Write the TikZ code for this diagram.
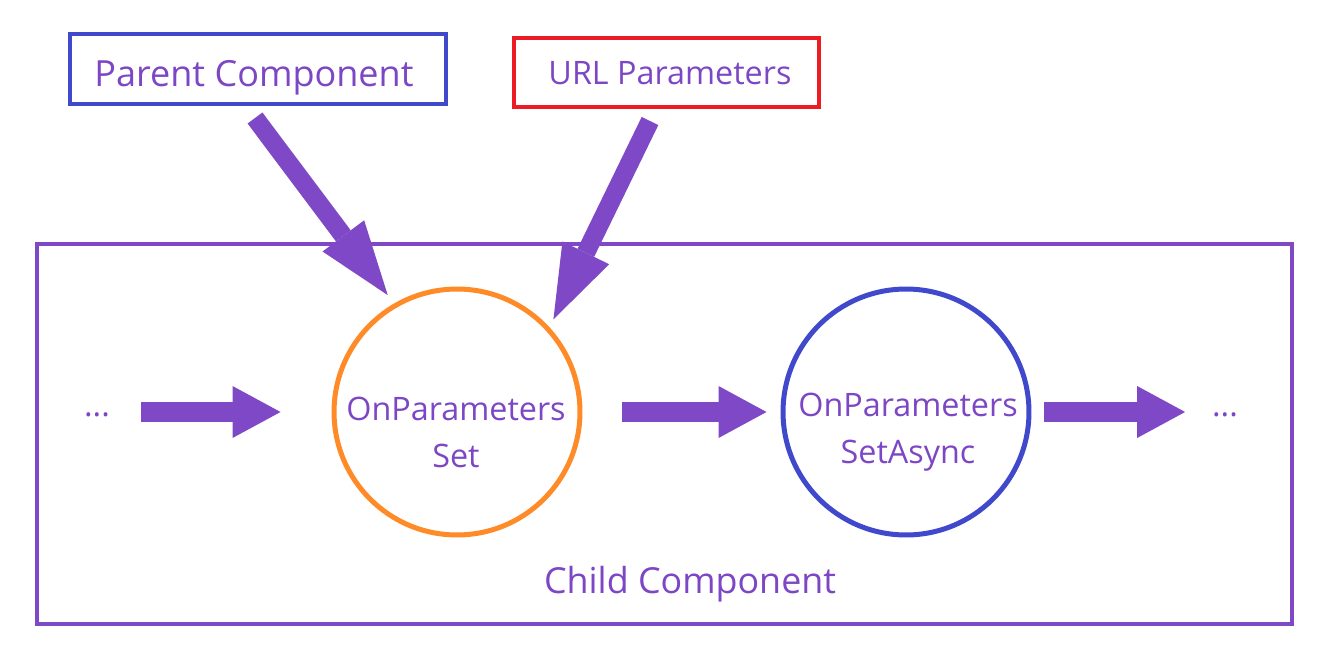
\documentclass[tikz,border=0pt]{standalone}
\usepackage{fontspec}
\setmainfont{Open Sans}
\usetikzlibrary{arrows.meta}

\definecolor{txtpurple}{RGB}{124,70,196}
\definecolor{arrpurple}{RGB}{126,72,198}
\definecolor{boxblue}{RGB}{64,72,204}
\definecolor{boxred}{RGB}{237,28,36}
\definecolor{setorange}{RGB}{255,138,40}

\tikzset{
  x=0.02cm, y=-0.02cm,
  label text/.style={text=txtpurple, inner sep=0pt, outer sep=0pt},
  srcbox/.style={draw, line width=0.08cm, minimum width=#1, minimum height=1.4cm, inner sep=0pt},
  hookcircle/.style={circle, draw=#1, line width=0.1cm, minimum size=4.92cm, inner sep=0pt, outer sep=0pt},
  flowarrow/.style={draw=arrpurple, line width=0.39cm,
    -{Triangle[length=0.96cm, width=1.04cm, line width=0pt]}},
  inarrow/.style={draw=arrpurple, line width=0.37cm,
    -{Triangle[length=1.48cm, width=1.04cm, line width=0pt]}},
}

\begin{document}
\begin{tikzpicture}
  \useasboundingbox (0,0) rectangle (1335,672);

  % sources of the parameters
  \node[srcbox=7.52cm, draw=boxblue] (parent) at (258,69) {};
  \node[label text, anchor=base, font=\fontsize{20.5}{24}\selectfont] (parenttxt) at (254,87) {Parent Component};
  \node[srcbox=6.1cm, draw=boxred, minimum height=1.38cm] (url) at (666.5,72.5) {};
  \node[label text, anchor=base, font=\fontsize{18.4}{22}\selectfont] (urltxt) at (670,85) {URL Parameters};

  % the child component and its lifecycle
  \node[draw=arrpurple, line width=0.08cm, minimum width=25.1cm, minimum height=7.6cm, inner sep=0pt] (child) at (664.5,434) {};
  \node[label text, anchor=base, font=\fontsize{20.4}{24}\selectfont] (childtxt) at (690,593) {Child Component};

  \node[hookcircle=setorange] (onset) at (457,412) {};
  \node[hookcircle=boxblue] (onasync) at (906,412) {};
  \node[label text, align=center, anchor=base, font=\fontsize{18.4}{26.6}\selectfont] (onsettxt) at (456,467) {OnParameters\\Set};
  \node[label text, align=center, anchor=base, font=\fontsize{18.4}{26.6}\selectfont] (onasynctxt) at (908,463) {OnParameters\\SetAsync};

  \node[label text, anchor=base, font=\fontsize{18.4}{22}\selectfont] (ldots) at (97,416) {...};
  \node[label text, anchor=base, font=\fontsize{18.4}{22}\selectfont] (rdots) at (1225,416) {...};

  % arrows
  \coordinate (parenttail) at (255,118);
  \coordinate (urltail) at (650,121);
  \draw[inarrow, shorten >=0.26cm] (parenttail) -- (onset.120);
  \draw[inarrow, shorten >=0.23cm] (urltail) -- (onset.42);

  \draw[flowarrow, shorten <=0.62cm, shorten >=1.07cm] (onset.west -| ldots.east) -- (onset.west);
  \draw[flowarrow, shorten <=0.85cm, shorten >=0.33cm] (onset.east) -- (onasync.west);
  \draw[flowarrow, shorten <=0.31cm, shorten >=0.54cm] (onasync.east) -- (onasync.east -| rdots.west);
\end{tikzpicture}
\end{document}
